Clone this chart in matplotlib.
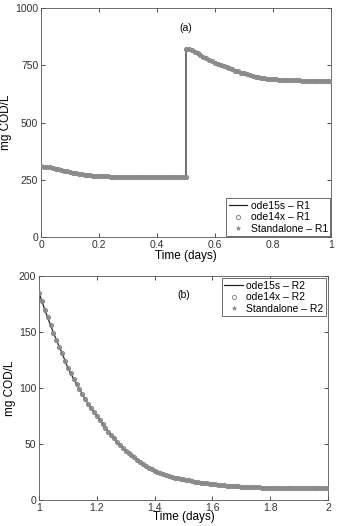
import matplotlib
matplotlib.use("Agg")
import matplotlib.pyplot as plt

plt.rcParams['font.family'] = ['Liberation Sans', 'DejaVu Sans']

# panel (a): reactor R1, first day (feed step at t = 0.5)
t_a1 = [0.00, 0.01, 0.02, 0.03, 0.04, 0.05, 0.06, 0.07, 0.08, 0.09,
        0.10, 0.11, 0.12, 0.13, 0.14, 0.15, 0.16, 0.17, 0.18, 0.19,
        0.20, 0.21, 0.22, 0.23, 0.24, 0.25, 0.26, 0.27, 0.28, 0.29,
        0.30, 0.31, 0.32, 0.33, 0.34, 0.35, 0.36, 0.37, 0.38, 0.39,
        0.40, 0.41, 0.42, 0.43, 0.44, 0.45, 0.46, 0.47, 0.48, 0.49, 0.50]
cod_a1 = [308, 307.5, 306, 304, 302, 299, 296, 293, 290, 287,
          284, 281, 278, 276, 274, 272.5, 271, 269.5, 268, 267,
          266, 265.5, 265, 264.5, 264, 263.5, 263, 263, 263, 262.5,
          262, 262, 262, 262, 262, 262, 262, 262, 262, 262,
          262, 262, 262, 262, 262, 262, 262, 262, 262, 262, 262]
t_a2 = [0.50, 0.51, 0.52, 0.53, 0.54, 0.55, 0.56, 0.57, 0.58, 0.59,
        0.60, 0.61, 0.62, 0.63, 0.64, 0.65, 0.66, 0.67, 0.68, 0.69,
        0.70, 0.71, 0.72, 0.73, 0.74, 0.75, 0.76, 0.77, 0.78, 0.79,
        0.80, 0.81, 0.82, 0.83, 0.84, 0.85, 0.86, 0.87, 0.88, 0.89,
        0.90, 0.91, 0.92, 0.93, 0.94, 0.95, 0.96, 0.97, 0.98, 0.99, 1.00]
cod_a2 = [820, 819, 816, 810, 804, 796, 788, 780, 772, 767,
          762, 757, 752, 747, 742, 737, 732, 727, 723, 718,
          714, 710, 706, 703, 700, 697, 695, 693, 692, 690,
          689, 688, 687, 686.5, 686, 685.5, 685, 684.5, 684, 683.5,
          683, 682.5, 682, 682, 682, 681.5, 681, 681, 681, 680.5, 680]

# panel (b): reactor R2, second day
t_b = [1.00, 1.01, 1.02, 1.03, 1.04, 1.05, 1.06, 1.07, 1.08, 1.09,
       1.10, 1.11, 1.12, 1.13, 1.14, 1.15, 1.16, 1.17, 1.18, 1.19,
       1.20, 1.21, 1.22, 1.23, 1.24, 1.25, 1.26, 1.27, 1.28, 1.29,
       1.30, 1.31, 1.32, 1.33, 1.34, 1.35, 1.36, 1.37, 1.38, 1.39,
       1.40, 1.41, 1.42, 1.43, 1.44, 1.45, 1.46, 1.47, 1.48, 1.49,
       1.50, 1.51, 1.52, 1.53, 1.54, 1.55, 1.56, 1.57, 1.58, 1.59,
       1.60, 1.61, 1.62, 1.63, 1.64, 1.65, 1.66, 1.67, 1.68, 1.69,
       1.70, 1.71, 1.72, 1.73, 1.74, 1.75, 1.76, 1.77, 1.78, 1.79,
       1.80, 1.81, 1.82, 1.83, 1.84, 1.85, 1.86, 1.87, 1.88, 1.89,
       1.90, 1.91, 1.92, 1.93, 1.94, 1.95, 1.96, 1.97, 1.98, 1.99, 2.00]
cod_b = [185, 177.5, 170, 163, 156, 149.5, 143, 137, 131, 124.5,
         118, 113, 108, 103.5, 99, 94.5, 90, 86, 82, 78.5,
         75, 71.5, 68, 64.5, 61, 58, 55, 52, 49, 46.5,
         44, 42, 40, 38, 36, 34, 32, 30.5, 29, 27.5,
         26, 25, 24, 23, 22, 21.2, 20.5, 20, 19.5, 19,
         18.5, 18, 17.5, 17, 16.5, 16, 15.5, 15.2, 15, 14.7,
         14.4, 14.1, 13.8, 13.5, 13.2, 12.9, 12.7, 12.5, 12.3, 12.1,
         12, 11.8, 11.7, 11.5, 11.4, 11.3, 11.2, 11.1, 11, 10.9,
         10.8, 10.7, 10.7, 10.6, 10.6, 10.6, 10.6, 10.5, 10.5, 10.5,
         10.5, 10.5, 10.5, 10.5, 10.5, 10.5, 10.5, 10.5, 10.5, 10.5, 10.5]

line_col = '#222222'
mk_col = '#8a8a8a'
fs = 7.5


def style_axes(ax):
    ax.tick_params(direction='in', top=True, right=True, length=3, width=0.6,
                   labelsize=fs, pad=2, colors='#333333')
    for s in ax.spines.values():
        s.set_linewidth(0.6)
        s.set_color('#555555')


def draw(ax, t, y, suffix):
    ax.plot(t, y, '-', color=line_col, lw=0.9, label='ode15s \u2013 ' + suffix, zorder=2)
    ax.plot(t, y, 'o', ls='none', ms=3, mfc='none', mec=mk_col, mew=0.7,
            label='ode14x \u2013 ' + suffix, zorder=3)
    ax.plot(t, y, '*', ls='none', ms=3, color=mk_col, mew=0.5,
            label='Standalone \u2013 ' + suffix, zorder=4)


fig = plt.figure(figsize=(3.37, 5.26), dpi=100)

ax1 = fig.add_axes([0.1217, 0.5494, 0.8603, 0.4354])
draw(ax1, t_a1 + t_a2, cod_a1 + cod_a2, 'R1')
ax1.set_xlim(0, 1)
ax1.set_ylim(0, 1000)
ax1.set_xticks([0, 0.2, 0.4, 0.6, 0.8, 1])
ax1.set_xticklabels(['0', '0.2', '0.4', '0.6', '0.8', '1'])
ax1.set_yticks([0, 250, 500, 750, 1000])
ax1.set_xlabel('Time (days)', fontsize=8.5, labelpad=0)
ax1.set_ylabel('mg COD/L', fontsize=8.5, labelpad=2)
ax1.text(0.5, 913, '(a)', ha='center', va='center', fontsize=fs)
style_axes(ax1)
leg1 = ax1.legend(loc='lower right', fontsize=fs, handlelength=1.8, handletextpad=0.3,
                  borderaxespad=0.05, borderpad=0.25, labelspacing=0.15,
                  fancybox=False, framealpha=1, edgecolor='#555555')
leg1.get_frame().set_linewidth(0.6)

ax2 = fig.add_axes([0.1157, 0.0494, 0.8576, 0.4259])
draw(ax2, t_b, cod_b, 'R2')
ax2.set_xlim(1, 2)
ax2.set_ylim(0, 200)
ax2.set_xticks([1, 1.2, 1.4, 1.6, 1.8, 2])
ax2.set_xticklabels(['1', '1.2', '1.4', '1.6', '1.8', '2'])
ax2.set_yticks([0, 50, 100, 150, 200])
ax2.set_xlabel('Time (days)', fontsize=8.5, labelpad=-1)
ax2.set_ylabel('mg COD/L', fontsize=8.5, labelpad=2)
ax2.text(1.5, 182.6, '(b)', ha='center', va='center', fontsize=fs)
style_axes(ax2)
leg2 = ax2.legend(loc='upper right', fontsize=fs, handlelength=1.8, handletextpad=0.3,
                  borderaxespad=0.2, borderpad=0.25, labelspacing=0.15,
                  fancybox=False, framealpha=1, edgecolor='#555555')
leg2.get_frame().set_linewidth(0.6)

fig.savefig('out.png', dpi=100)
